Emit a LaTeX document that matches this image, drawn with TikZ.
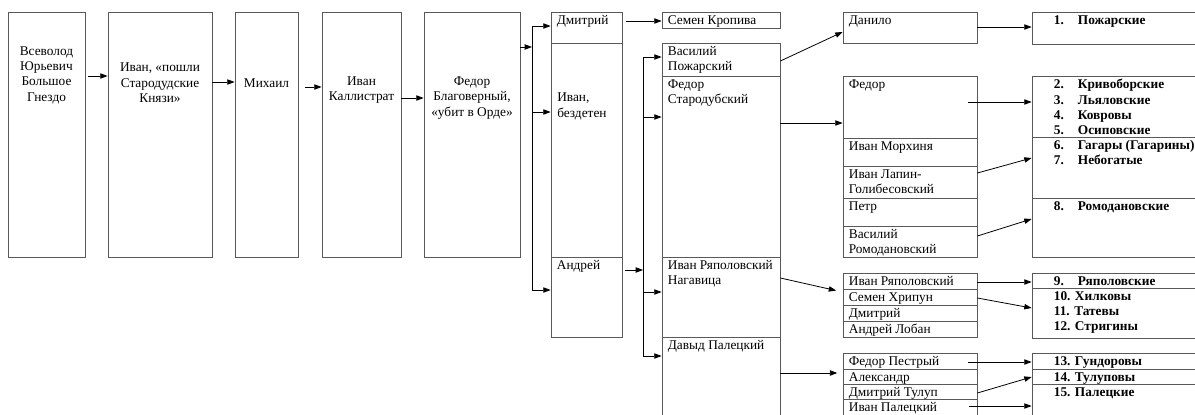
\documentclass[tikz,border=0pt]{standalone}
\usepackage{fontspec}
\setmainfont{Liberation Serif}
\usetikzlibrary{arrows.meta,fit}
\newcommand\cell[5]{\node[box,fit={(#2,#3) (#4,#5)}] (#1) {};}
\newcommand\cellt[7][txt]{\cell{#2}{#3}{#4}{#5}{#6}\node[#1] (#2-t) at ([shift={(6,3.5)}]#2.north west) {#7};}
\newcommand\nm[1]{\makebox[18pt][l]{#1}}

\begin{document}
\begin{tikzpicture}[x=0.75pt,y=-0.75pt,
    box/.style={draw=black!65,line width=0.6pt,inner sep=0pt},
    txt/.style={inner sep=0pt,anchor=north west,align=left,font=\fontsize{10}{11.5}\selectfont},
    btxt/.style={txt,xshift=12pt,font=\fontsize{10}{11.5}\selectfont\bfseries},
    ctxt/.style={txt,anchor=center,align=center},
    arr/.style={draw=black,line width=0.6pt,-{Triangle[length=5.5pt,width=4pt]}}]
\useasboundingbox (0,0) rectangle (1195,414);
\clip (0,0) rectangle (1195,414);
% main line
\cell{vsev}{8}{12}{85}{257}
\cell{ivp}{108}{12}{212}{257}
\cell{mikh}{235}{12}{298}{257}
\cell{ivk}{322}{12}{401}{257}
\cell{fedb}{424}{12}{520}{257}
\node[ctxt] (vsev-t) at (vsev.north |- 0,75) {Всеволод\\Юрьевич\\Большое\\Гнездо};
\node[ctxt] (ivp-t) at (ivp.north |- 0,83) {Иван, «пошли\\Стародудские\\Князи»};
\node[ctxt] (mikh-t) at (mikh.north |- 0,83) {Михаил};
\node[ctxt] (ivk-t) at (ivk.north |- 0,90) {Иван\\Каллистрат};
\node[ctxt] (fedb-t) at (fedb.north |- 0,98) {Федор\\Благоверный,\\«убит в Орде»};
\draw[arr,shorten <=2pt] (vsev.east |- 0,76) -- (ivp.west |- 0,76);
\draw[arr] (ivp.east |- 0,82) -- (mikh.west |- 0,82);
\draw[arr,shorten <=5pt] (mikh.east |- 0,87) -- (ivk.west |- 0,87);
\draw[arr] (ivk.east |- 0,98) -- (fedb.west |- 0,98);
% sons of Fedor
\cellt{dm}{551}{12}{622}{43}{Дмитрий}
\cell{ivb}{551}{43}{622}{257}
\node[txt] (ivb-t) at (557,93) {Иван,\\бездетен};
\cellt{andr}{551}{257}{622}{337}{Андрей}
\cellt{sem}{662}{12}{780}{28}{Семен Кропива}
\coordinate (b1top) at (532,26);
\coordinate (b1bot) at (532,290);
\draw[line width=0.6pt] (b1top) -- (b1bot);
\draw[arr] (fedb.east |- 0,47) -- (b1top |- 0,47);
\draw[arr] (b1top) -- (dm.west |- b1top);
\draw[arr] (b1top |- 0,112) -- (ivb.west |- 0,112);
\draw[arr] (b1bot) -- (andr.west |- b1bot);
\draw[arr,shorten <=3pt] (dm.east |- 0,21) -- (sem.west |- 0,21);
% sons of Andrei
\cellt{vp}{662}{43}{780}{76}{Василий\\Пожарский}
\cellt{fs}{662}{76}{780}{257}{Федор\\Стародубский}
\cellt{irn}{662}{257}{780}{337}{Иван Ряполовский\\Нагавица}
\cellt{dp}{662}{337}{780}{430}{Давыд Палецкий}
\coordinate (b2top) at (643,57);
\coordinate (b2bot) at (643,356);
\draw[line width=0.6pt] (b2top) -- (b2bot);
\draw[arr,shorten <=2pt] (andr.east |- 0,270) -- (b2top |- 0,270);
\draw[arr] (b2top) -- (vp.west |- b2top);
\draw[arr] (b2top |- 0,117) -- (fs.west |- 0,117);
\draw[arr] (b2top |- 0,292) -- (irn.west |- 0,292);
\draw[arr] (b2bot) -- (dp.west |- b2bot);
% grandsons
\cellt{dan}{843}{12}{977}{43}{Данило}
\cellt{fe}{843}{76}{977}{138}{Федор}
\cellt{im}{843}{138}{977}{166}{Иван Морхиня}
\cellt{il}{843}{166}{977}{198}{Иван Лапин-\\Голибесовский}
\cellt{pe}{843}{198}{977}{226}{Петр}
\cellt{vr}{843}{226}{977}{257}{Василий\\Ромодановский}
\cellt{ir}{843}{273}{977}{289}{Иван Ряполовский}
\cellt{sk}{843}{289}{977}{305}{Семен Хрипун}
\cellt{dmi}{843}{305}{977}{321}{Дмитрий}
\cellt{al}{843}{321}{977}{337}{Андрей Лобан}
\cellt{fp}{843}{353}{977}{369}{Федор Пестрый}
\cellt{ale}{843}{369}{977}{384}{Александр}
\cellt{dt}{843}{384}{977}{399}{Дмитрий Тулуп}
\cellt{ip}{843}{399}{977}{430}{Иван Палецкий}
\draw[arr] (vp.east |- 0,61) -- (dan.west |- 0,32);
\draw[arr] (fs.east |- 0,123) -- (fe.west |- 0,123);
\draw[arr,shorten >=5pt] (irn.east |- 0,278) -- (ir.west |- 0,292);
\draw[arr,shorten >=4pt] (dp.east |- 0,373) -- (fp.west |- 0,373);
% families
\cellt[btxt]{pozh}{1032}{12}{1200}{44}{\nm{1.}Пожарские}
\cellt[btxt]{krivo}{1032}{76}{1200}{137}{\nm{2.}Кривоборские\\\nm{3.}Льяловские\\\nm{4.}Ковровы\\\nm{5.}Осиповские}
\cellt[btxt]{gagar}{1032}{137}{1200}{198}{\nm{6.}Гагары (Гагарины)\\\nm{7.}Небогатые}
\cellt[btxt]{romod}{1032}{198}{1200}{257}{\nm{8.}Ромодановские}
\cellt[btxt]{ryap}{1032}{273}{1200}{288}{\nm{9.}Ряполовские}
\cellt[btxt]{khilk}{1032}{288}{1200}{338}{10. Хилковы\\11. Татевы\\12. Стригины}
\cellt[btxt]{gund}{1032}{353}{1200}{369}{13. Гундоровы}
\cellt[btxt]{tulup}{1032}{369}{1200}{384}{14. Тулуповы}
\cellt[btxt]{palec}{1032}{384}{1200}{430}{15. Палецкие}
\coordinate (fe-o) at (968,102);
\coordinate (fp-o) at (968,362);
\coordinate (ip-o) at (969,406);
\draw[arr] (dan.east |- 0,27) -- (pozh.west |- 0,27);
\draw[arr] (fe-o) -- (krivo.west |- fe-o);
\draw[arr] (il.east |- 0,173) -- (gagar.west |- 0,158);
\draw[arr] (vr.east |- 0,236) -- (romod.west |- 0,219);
\draw[arr] (ir.east |- 0,282) -- (ryap.west |- 0,282);
\draw[arr] (sk.east |- 0,298) -- (khilk.west |- 0,308);
\draw[arr] (fp-o) -- (gund.west |- fp-o);
\draw[arr] (dt.east |- 0,393) -- (tulup.west |- 0,377);
\draw[arr] (ip-o) -- (palec.west |- ip-o);
\end{tikzpicture}
\end{document}
